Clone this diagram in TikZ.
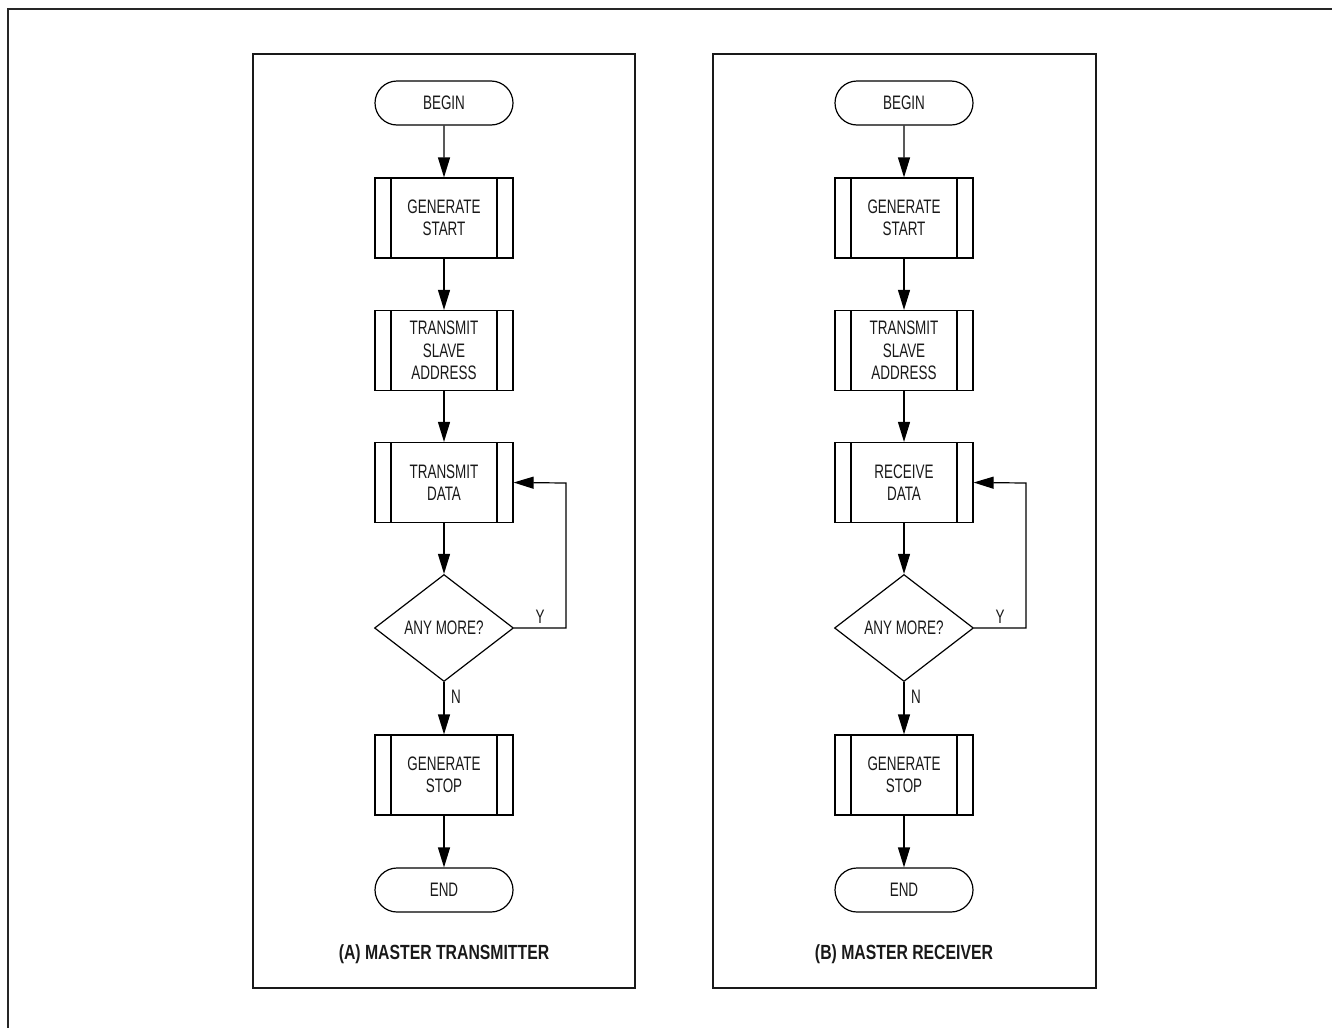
\documentclass[tikz,border=0pt]{standalone}
\usepackage{fontspec}
\setmainfont{Liberation Sans}[FakeStretch=0.69]
\newfontfamily\capfont{Liberation Sans}[FakeStretch=0.77,UprightFont=*-Bold]
\usetikzlibrary{shapes.geometric,shapes.misc,arrows.meta}
\tikzset{
  txt/.style={font=\fontsize{19.5}{22.5}\selectfont, align=center, text=black!90},
  term/.style={txt, draw, line width=1.2pt, rounded rectangle, minimum width=138pt, minimum height=44pt, inner sep=0pt},
  subr/.style={txt, draw, line width=1.2pt, rectangle, minimum width=138pt, minimum height=80pt, inner sep=0pt,
    path picture={
      \draw[line width=1.2pt] ([xshift=16pt]path picture bounding box.north west) -- ([xshift=16pt]path picture bounding box.south west);
      \draw[line width=1.2pt] ([xshift=-16pt]path picture bounding box.north east) -- ([xshift=-16pt]path picture bounding box.south east);
    }},
  decis/.style={txt, draw, line width=1.2pt, diamond, aspect=1.3, minimum width=139pt, minimum height=107pt, inner sep=0pt},
  flow/.style={line width=1.2pt, -{Triangle[length=20pt,width=12pt]}},
  panel/.style={draw, line width=1.3pt, black!90},
  lbl/.style={font=\fontsize{19.5}{22}\selectfont, text=black!90},
  caption/.style={font=\capfont\fontsize{20.5}{22}\selectfont, text=black!90}
}
\begin{document}
\begin{tikzpicture}[x=1pt,y=-1pt]
\useasboundingbox (0,0) rectangle (1332,1028);
% outer frame: top and left edges only
\coordinate (fa) at (1332,9);
\coordinate (fb) at (8,9);
\coordinate (fc) at (8,1028);
\draw[line width=2.2pt, black!85] (fa) -- (fb) -- (fc);

% ---------- Panel A ----------
\node[panel, minimum width=382pt, minimum height=934pt, inner sep=0pt] (pA) at (444,521) {};
\node[term] (a1) at (444,103) {BEGIN};
\node[subr] (a2) at (444,218) {GENERATE\\START};
\node[subr] (a3) at (444,350.5) {TRANSMIT\\SLAVE\\ADDRESS};
\node[subr] (a4) at (444,482.5) {TRANSMIT\\DATA};
\node[decis] (a5) at (444,628) {ANY MORE?};
\node[subr] (a6) at (444,775) {GENERATE\\STOP};
\node[term] (a7) at (444,890) {END};
\node[caption] (acap) at (444,954) {(A) MASTER TRANSMITTER};
\coordinate (aL1) at (566,628);
\coordinate (aL2) at (566,483);
\node[lbl] (aY) at (540,617) {Y};
\node[lbl] (aN) at (456,697) {N};
\draw[flow] (a1) -- (a2);
\draw[flow] (a2) -- (a3);
\draw[flow] (a3) -- (a4);
\draw[flow] (a4) -- (a5);
\draw[flow] (a5) -- (a6);
\draw[flow] (a6) -- (a7);
\draw[flow] (a5.east) -- (aL1) -- (aL2) -- (a4.east);

% ---------- Panel B ----------
\node[panel, minimum width=383pt, minimum height=934pt, inner sep=0pt] (pB) at (904.5,521) {};
\node[term] (b1) at (904,103) {BEGIN};
\node[subr] (b2) at (904,218) {GENERATE\\START};
\node[subr] (b3) at (904,350.5) {TRANSMIT\\SLAVE\\ADDRESS};
\node[subr] (b4) at (904,482.5) {RECEIVE\\DATA};
\node[decis] (b5) at (904,628) {ANY MORE?};
\node[subr] (b6) at (904,775) {GENERATE\\STOP};
\node[term] (b7) at (904,890) {END};
\node[caption] (bcap) at (904,954) {(B) MASTER RECEIVER};
\coordinate (bL1) at (1026,628);
\coordinate (bL2) at (1026,483);
\node[lbl] (bY) at (1000,617) {Y};
\node[lbl] (bN) at (916,697) {N};
\draw[flow] (b1) -- (b2);
\draw[flow] (b2) -- (b3);
\draw[flow] (b3) -- (b4);
\draw[flow] (b4) -- (b5);
\draw[flow] (b5) -- (b6);
\draw[flow] (b6) -- (b7);
\draw[flow] (b5.east) -- (bL1) -- (bL2) -- (b4.east);
\end{tikzpicture}
\end{document}
